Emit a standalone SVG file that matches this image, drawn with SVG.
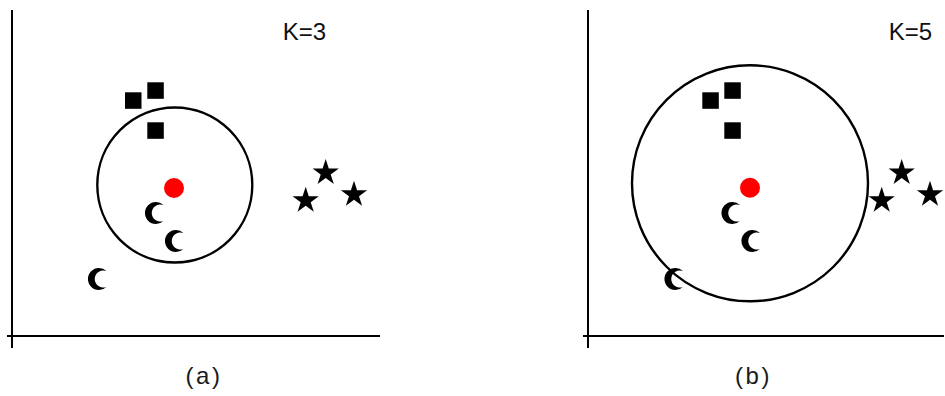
<svg xmlns="http://www.w3.org/2000/svg" xmlns:xlink="http://www.w3.org/1999/xlink" width="945" height="396" viewBox="0 0 945 396">
<style>
.axis{stroke:#000;stroke-width:2;fill:none}
.ring{stroke:#000;stroke-width:2.4;fill:none}
.sq{fill:#000}
.query{fill:#ff0000}
.k{font-family:"Liberation Sans",Arial,sans-serif;font-size:24px;fill:#111}
.cap{font-family:"Liberation Sans",Arial,sans-serif;font-size:24px;fill:#1a1a1a;letter-spacing:2.5px}
</style>
<defs>
<path id="moon" d="M8.5,-8 A11,11 0 1,0 8.5,8 A8.6,8.6 0 1,1 8.5,-8 Z" fill="#000"/>
<polygon id="star" points="0,-13.8 3.1,-4.26 13.12,-4.26 5.01,1.63 8.11,11.16 0,5.27 -8.11,11.16 -5.01,1.63 -13.12,-4.26 -3.1,-4.26" fill="#000"/>
</defs>
<rect width="945" height="396" fill="#fff"/>
<g id="panel-a">
<g id="axes-a">
<line class="axis" x1="12" y1="10" x2="12" y2="348"/>
<line class="axis" x1="7" y1="336" x2="380" y2="336"/>
</g>
<g id="circle-a"><circle class="ring" cx="174.8" cy="185" r="77.5"/></g>
<g id="squares-a">
<rect class="sq" x="125" y="92.3" width="16.5" height="16.5"/>
<rect class="sq" x="147.3" y="82.3" width="16.5" height="16.5"/>
<rect class="sq" x="147.3" y="122.3" width="16.5" height="16.5"/>
</g>
<g id="query-a"><circle class="query" cx="174" cy="188" r="10"/></g>
<g id="moons-a">
<use xlink:href="#moon" x="155" y="213"/>
<use xlink:href="#moon" x="175" y="241"/>
<use xlink:href="#moon" x="98" y="279"/>
</g>
<g id="stars-a">
<use xlink:href="#star" x="325.7" y="172.8"/>
<use xlink:href="#star" x="305.7" y="200.5"/>
<use xlink:href="#star" x="354" y="194.5"/>
</g>
<text class="k" x="304.5" y="40" text-anchor="middle">K=3</text>
<text class="cap" x="204" y="384" text-anchor="middle">(a)</text>
</g>
<g id="panel-b">
<g id="axes-b">
<line class="axis" x1="588" y1="10" x2="588" y2="348"/>
<line class="axis" x1="583" y1="336" x2="944" y2="336"/>
</g>
<g id="circle-b"><circle class="ring" cx="750" cy="183.3" r="118"/></g>
<g id="squares-b">
<rect class="sq" x="702.3" y="92.3" width="16.5" height="16.5"/>
<rect class="sq" x="724.3" y="82.3" width="16.5" height="16.5"/>
<rect class="sq" x="724.3" y="122.3" width="16.5" height="16.5"/>
</g>
<g id="query-b"><circle class="query" cx="750" cy="187.7" r="10"/></g>
<g id="moons-b">
<use xlink:href="#moon" x="731.5" y="213"/>
<use xlink:href="#moon" x="751.5" y="241"/>
<use xlink:href="#moon" x="674.5" y="279"/>
</g>
<g id="stars-b">
<use xlink:href="#star" x="901.7" y="172.8"/>
<use xlink:href="#star" x="881.7" y="200.5"/>
<use xlink:href="#star" x="930" y="194.5"/>
</g>
<text class="k" x="910.5" y="40" text-anchor="middle">K=5</text>
<text class="cap" x="753.5" y="384" text-anchor="middle">(b)</text>
</g>
</svg>
